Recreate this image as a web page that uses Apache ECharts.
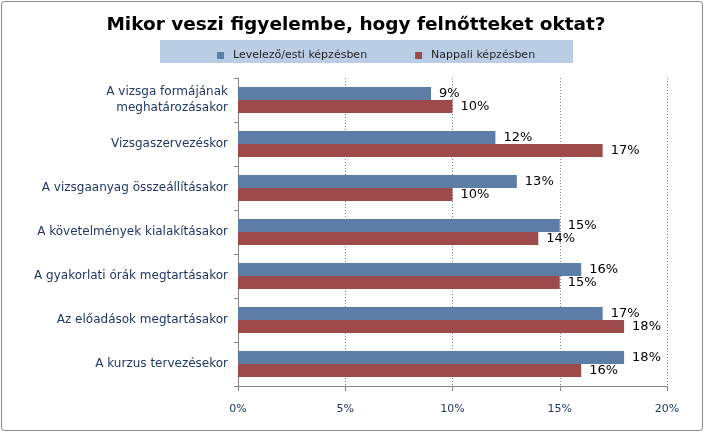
<!DOCTYPE html>
<html><head><meta charset="utf-8">
<script src="https://cdn.jsdelivr.net/npm/echarts@6/dist/echarts.min.js"></script>
<style>html,body{margin:0;padding:0;background:#fff}#c{width:704px;height:432px;position:relative}
#frame{position:absolute;left:1px;top:1px;width:700px;height:428px;border:1px solid #8c8c8c;border-radius:3px;pointer-events:none}</style>
</head><body><div id="c"></div><div id="frame"></div>
<script>
const categories = ["A vizsga formájának\nmeghatározásakor","Vizsgaszervezéskor","A vizsgaanyag összeállításakor","A követelmények kialakításakor","A gyakorlati órák megtartásakor","Az előadások megtartásakor","A kurzus tervezésekor"];
const seriesNames = ["Levelező/esti képzésben","Nappali képzésben"];
const levelezo = [9,12,13,15,16,17,18];
const nappali = [10,17,10,14,15,18,16];
const xTicks = [0,5,10,15,20];
const font = "DejaVu Sans";
const chart = echarts.init(document.getElementById('c'));
const lbl = {show:true, position:'right', distance:8, formatter:'{c}%', color:'#000', fontFamily:font, fontSize:13};
chart.setOption({
  animation:false,
  title:{text:'Mikor veszi figyelembe, hogy felnőtteket oktat?', left:351, textAlign:'center', top:11,
    textStyle:{fontFamily:font, fontWeight:'bold', fontSize:18.5, color:'#000'}},
  graphic:[{type:'rect', shape:{x:160,y:40,width:413,height:23}, style:{fill:'#B9CDE5'}, z:-1}],
  legend:{top:45, left:212, itemWidth:7, itemHeight:7, itemGap:48, icon:'rect',
    textStyle:{fontFamily:font, fontSize:11, color:'#1f1f1f', padding:[0,0,0,4]}, data:seriesNames},
  grid:{left:238, right:37, top:78, bottom:46},
  xAxis:{type:'value', min:xTicks[0], max:xTicks[xTicks.length-1], interval:5,
    axisLine:{show:true, lineStyle:{color:'#868686'}},
    axisTick:{show:true, length:5, lineStyle:{color:'#868686'}},
    axisLabel:{formatter:'{value}%', margin:18, fontFamily:font, fontSize:11, color:'#1F3864'},
    splitLine:{show:true, lineStyle:{type:[1,2], color:'#808080'}}},
  yAxis:{type:'category', inverse:true, data:categories,
    axisLine:{lineStyle:{color:'#868686'}},
    axisTick:{show:true, length:4, lineStyle:{color:'#868686'}},
    axisLabel:{margin:10, fontFamily:font, fontSize:12, lineHeight:16, color:'#1F3864', align:'right'}},
  series:[
    {name:seriesNames[0], type:'bar', data:levelezo, barGap:'0%', barCategoryGap:'41%', itemStyle:{color:'#5B7DA6'}, label:lbl},
    {name:seriesNames[1], type:'bar', data:nappali, barGap:'0%', barCategoryGap:'41%', itemStyle:{color:'#9D4B4A'}, label:lbl}
  ]
});
</script></body></html>
